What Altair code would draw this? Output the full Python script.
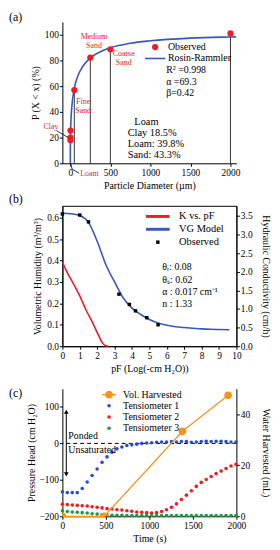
import altair as alt
import pandas as pd

FONT = "Liberation Serif"
RED = "#ee1d25"
BLUE = "#3757c0"
ORANGE = "#f7941d"
T_BLUE = "#2a4bd0"
T_RED = "#f21c1c"
T_GREEN = "#1c9a3c"

# ---------------- Panel (a) data ----------------
a_obs_x = [2, 2, 2, 50, 250, 500, 2000]
a_obs_y = [18.0, 20.0, 25.5, 57.0, 82.3, 88.7, 101.0]
a_fit_x = [0, 0.1, 0.5, 1, 2, 5, 10, 20, 50, 100, 150, 250, 400, 500, 750, 1000, 1500, 2000, 2070]
a_fit_y = [0, 6.2, 11.8, 15.5, 20.2, 28.3, 35.8, 44.7, 58.2, 68.9, 74.9, 82.0, 87.6, 89.9, 93.4, 95.3, 97.4, 98.3, 98.4]
a_drop_x = [50, 250, 500, 2000]
a_drop_y = [57.0, 82.3, 88.7, 101.0]
a_xticks = [0, 500, 1000, 1500, 2000]
a_yticks = [0, 20, 40, 60, 80, 100]

# ---------------- Panel (b) data ----------------
b_vg_pf = [0, 0.5, 1.0, 1.5, 2.0, 2.5, 3.0, 3.5, 4.0, 4.5, 5.0, 5.5, 6.0, 6.5, 7.0, 7.5, 8.0, 8.5, 9.0, 9.6]
b_vg_th = [0.62, 0.618, 0.610, 0.578, 0.49, 0.38, 0.30, 0.225, 0.178, 0.148, 0.125, 0.108,
           0.098, 0.091, 0.087, 0.084, 0.081, 0.079, 0.078, 0.077]
b_obs_pf = [0.0, 1.0, 1.5, 3.25, 3.85, 4.2, 4.85, 5.5]
b_obs_th = [0.617, 0.612, 0.58, 0.243, 0.195, 0.165, 0.133, 0.100]
b_k_pf = [0, 0.2, 0.6, 1.0, 1.35, 1.75, 2.1, 2.3, 2.5, 2.65]
b_k_val = [2.26, 2.05, 1.71, 1.35, 0.98, 0.62, 0.27, 0.09, 0.01, 0.0]
b_xticks = [0, 1, 2, 3, 4, 5, 6, 7, 8, 9, 10]
b_yticks = [0.0, 0.1, 0.2, 0.3, 0.4, 0.5, 0.6]
b_kticks = [0.0, 0.5, 1.0, 1.5, 2.0, 2.5, 3.0, 3.5]

# ---------------- Panel (c) data ----------------
c_time = [0, 57, 114, 171, 228, 285, 342, 399, 456, 513, 570, 627, 684, 741, 798, 855, 912, 969,
          1026, 1083, 1140, 1197, 1254, 1311, 1368, 1425, 1482, 1539, 1596, 1653, 1710, 1767, 1824,
          1881, 1938, 1995]
c_t1 = [-133, -135, -135, -135, -124, -106, -88, -70, -52, -37, -24, -15, -10, -6, -4, -2, 0, 1,
        2, 3, 4, 4, 5, 4, 5, 5, 3, 4, 5, 6, 5, 6, 6, 5, 4, 4]
c_t2 = [-167, -168, -169, -170, -171, -172, -174, -175, -177, -179, -180, -182, -183, -185, -186,
        -188, -189, -190, -191, -190, -187, -182, -175, -166, -154, -142, -130, -118, -107, -99,
        -91, -83, -76, -69, -62, -57]
c_t3 = [-185, -187, -188, -189, -190, -191, -193, -194, -195, -196, -197, -197, -197, -198, -198,
        -198, -198, -198, -198, -198, -198, -198, -198, -198, -198, -198, -198, -198, -198, -198,
        -198, -198, -198, -198, -198, -198]
c_vol_t = [0, 480, 1380, 1905]
c_vol = [0.0, 0.0, 33.3, 47.4]
c_arrow_t = [45]
c_arrow_top = [87]
c_arrow_bot = [-85]
c_xticks = [0, 500, 1000, 1500, 2000]
c_yticks = [-200, -150, -100, -50, 0, 50, 100, 150]
c_vticks = [0, 10, 20, 30, 40, 50]

A_DOM = ["Observed", "Rosin-Rammler"]
B_DOM = ["K vs. pF", "VG Model", "Observed"]
C_DOM = ["Vol. Harvested", "Tensiometer 1", "Tensiometer 2", "Tensiometer 3"]

W = 176
HA, HB, HC = 143, 142, 129
ONE = pd.DataFrame({"k": [0]})


def ax(**kw):
    base = dict(tickSize=3, labelPadding=1, domainColor="black", tickColor="black",
                labelColor="black", titleColor="black", grid=False, labelFont=FONT,
                titleFont=FONT, labelFontSize=9.5, titleFontSize=10,
                titleFontWeight="normal", labelFlush=False, labelOverlap=False)
    base.update(kw)
    return alt.Axis(**base)


def lbl(s, x, y, size=10.0, color="black", align="left"):
    return alt.Chart(ONE).mark_text(align=align, baseline="middle", fontSize=size,
                                    font=FONT, color=color).encode(
        x=alt.value(x), y=alt.value(y), text=alt.value(s))


def seg(x1, y1, x2, y2, color="black", w=0.8):
    return alt.Chart(ONE).mark_rule(color=color, strokeWidth=w).encode(
        x=alt.value(x1), y=alt.value(y1), x2=alt.value(x2), y2=alt.value(y2))


def leg(x, y, size, offset, rowpad, fs=10.5):
    return alt.Legend(orient="none", legendX=x, legendY=y, title=None, labelFont=FONT,
                      labelFontSize=fs, labelColor="black", labelOffset=offset,
                      rowPadding=rowpad, padding=0, symbolSize=size, symbolStrokeWidth=0)


# ---------------- Panel (a) ----------------
xa = alt.Scale(domain=[-99, 2074], nice=False, zero=False)
ya = alt.Scale(domain=[0, 110], nice=False)
XA = alt.X("x:Q", scale=xa, axis=ax(values=a_xticks, format="d", title="Particle Diameter (µm)",
                                    titlePadding=4))
YA = alt.Y("y:Q", scale=ya, axis=ax(values=a_yticks, format="d", title="P (X < x) (%)",
                                    titlePadding=4))
a_obs = pd.DataFrame({"x": a_obs_x, "y": a_obs_y, "s": "Observed"})
a_fit = pd.DataFrame({"x": a_fit_x, "y": a_fit_y})
a_drop = pd.DataFrame({"x": a_drop_x, "y": a_drop_y})

RR_PATH = "M-3.2,-0.25L3.2,-0.25L3.2,0.25L-3.2,0.25Z"
la = leg(88.8, 20.5, 40, 7.9, 1.5, 10)

a_drops = alt.Chart(a_drop).mark_rule(color="black", strokeWidth=0.8).encode(
    x=XA, y=YA, y2=alt.datum(0))
a_line = alt.Chart(a_fit).mark_line(color=BLUE, strokeWidth=1.6, interpolate="monotone").encode(
    x=XA, y=YA)
a_pts = alt.Chart(a_obs).mark_point(filled=True, size=40, opacity=1).encode(
    x=XA, y=YA,
    color=alt.Color("s:N", scale=alt.Scale(domain=A_DOM, range=[RED, BLUE]), legend=la),
    shape=alt.Shape("s:N", scale=alt.Scale(domain=A_DOM, range=["circle", RR_PATH]), legend=la))

RS = 8
a_ann = [
    lbl("(a)", -54, -5, 12),
    lbl("Clay", -19, 106, RS, RED),
    lbl("Fine", 21, 81.5, RS, RED, "center"), lbl("Sand", 21, 90.5, RS, RED, "center"),
    lbl("Medium", 32, 15.5, RS, RED, "center"), lbl("Sand", 32, 24.5, RS, RED, "center"),
    lbl("Coarse", 62, 32.5, RS, RED, "center"), lbl("Sand", 62, 41.5, RS, RED, "center"),
    lbl("Loam", 18, 154, RS, RED),
    lbl("R² =0.998", 105, 48.5, 10), lbl("α =69.3", 105, 60.5, 10), lbl("β=0.42", 105, 71.5, 10),
    lbl("Loam", 85, 101, 10.5, align="center"),
    lbl("Clay 18.5%", 66, 112, 10.5), lbl("Loam: 39.8%", 66, 124, 10.5),
    lbl("Sand: 43.3%", 66, 135, 10.5),
    seg(-6, 110, 6, 117),
    seg(8, 143, 10, 149), seg(10, 149, 17, 153),
]
panel_a = alt.layer(a_drops, a_line, a_pts, *a_ann).properties(width=W, height=HA)

# ---------------- Panel (b) ----------------
xb = alt.Scale(domain=[0, 10], nice=False)
yb = alt.Scale(domain=[0, 0.655], nice=False)
yk = alt.Scale(domain=[0, 3.77], nice=False)
XB = alt.X("pf:Q", scale=xb, axis=ax(values=b_xticks, format="d",
                                     title="pF (Log(-cm H₂O))", titlePadding=4))
YB = alt.Y("th:Q", scale=yb, axis=ax(values=b_yticks, format=".1f",
                                     title="Volumetric Humidity (m³/m³)", titlePadding=4))
b_vg = pd.DataFrame({"pf": b_vg_pf, "th": b_vg_th})
b_obs = pd.DataFrame({"pf": b_obs_pf, "th": b_obs_th, "s": "Observed"})
b_k = pd.DataFrame({"pf": b_k_pf, "k": b_k_val})

LINE_PATH = "M-6.9,-0.85L6.9,-0.85L6.9,0.85L-6.9,0.85Z"
lb = leg(91.3, 5.5, 12, 16.2, 2.0)

b_line = alt.Chart(b_vg).mark_line(color=BLUE, strokeWidth=1.6, interpolate="monotone").encode(
    x=XB, y=YB)
b_pts = alt.Chart(b_obs).mark_point(filled=True, size=12, opacity=1).encode(
    x=XB, y=YB,
    color=alt.Color("s:N", scale=alt.Scale(domain=B_DOM, range=[RED, BLUE, "black"]), legend=lb),
    shape=alt.Shape("s:N", scale=alt.Scale(domain=B_DOM, range=[LINE_PATH, LINE_PATH, "square"]),
                    legend=lb))
b_kl = alt.Chart(b_k).mark_line(color=RED, strokeWidth=1.6, interpolate="monotone").encode(
    x=XB,
    y=alt.Y("k:Q", scale=yk, axis=ax(orient="right", values=b_kticks, format=".1f",
                                     title="Hydraulic Conductivity (cm/h)", titlePadding=9)))
b_ann = [
    lbl("(b)", -54, -7, 12),
    lbl("θᵣ: 0.08", 101, 62, 10), lbl("θₛ: 0.62", 101, 75, 10),
    lbl("α : 0.017 cm⁻¹", 101, 87, 10), lbl("n : 1.33", 101, 99, 10),
]
panel_b = alt.layer(alt.layer(b_line, b_pts, *b_ann), b_kl).resolve_scale(
    y="independent").properties(width=W, height=HB,
                                view=alt.ViewBackground(stroke="black", strokeWidth=1))

# ---------------- Panel (c) ----------------
xc = alt.Scale(domain=[0, 2000], nice=False)
yc = alt.Scale(domain=[-200, 150], nice=False)
yv = alt.Scale(domain=[0, 50], nice=False)
XC = alt.X("t:Q", scale=xc, axis=ax(values=c_xticks, format="d", title="Time (s)",
                                    titlePadding=4))
YC = alt.Y("h:Q", scale=yc, axis=ax(values=c_yticks, format="d",
                                    title="Pressure Head (cm H₂O)", titlePadding=3))
c_long = pd.DataFrame({
    "t": c_time * 3,
    "h": c_t1 + c_t2 + c_t3,
    "s": ["Tensiometer 1"] * len(c_time) + ["Tensiometer 2"] * len(c_time)
         + ["Tensiometer 3"] * len(c_time)})
c_v = pd.DataFrame({"t": c_vol_t, "v": c_vol})
c_arr = pd.DataFrame({"t": c_arrow_t, "h": c_arrow_top, "bot": c_arrow_bot})

VOL_PATH = ("M-3.9,-0.35L3.9,-0.35L3.9,0.35L-3.9,0.35Z "
            "M2.2,0A2.2,2.2,0,1,1,-2.2,0A2.2,2.2,0,1,1,2.2,0Z")
lc = leg(42.2, 1, 13, 9.2, 1.3, 10)

c_pts = alt.Chart(c_long).mark_point(filled=True, size=13, opacity=1).encode(
    x=XC, y=YC,
    color=alt.Color("s:N", scale=alt.Scale(domain=C_DOM, range=[ORANGE, T_BLUE, T_RED, T_GREEN]),
                    legend=lc),
    shape=alt.Shape("s:N", scale=alt.Scale(domain=C_DOM,
                                           range=[VOL_PATH, "circle", "circle", "circle"]),
                    legend=lc))
c_dash = alt.Chart(ONE).mark_rule(color="black", strokeDash=[4, 3], strokeWidth=1).encode(
    y=alt.datum(0))
c_arrow = alt.Chart(c_arr).mark_rule(color="black", strokeWidth=1).encode(
    x=XC, y=YC, y2="bot:Q")
c_head_up = alt.Chart(c_arr).mark_point(shape="triangle-up", filled=True, size=22,
                                        color="black", opacity=1).encode(x=XC, y=YC)
c_head_dn = alt.Chart(c_arr).mark_point(shape="triangle-down", filled=True, size=22,
                                        color="black", opacity=1).encode(x=XC, y=alt.Y("bot:Q", scale=yc))
c_ann = [
    lbl("(c)", -54, 4, 12),
    lbl("Ponded", 6, 48, 10), lbl("Unsaturated", 6, 62, 10),
]
c_vline = alt.Chart(c_v).mark_line(color=ORANGE, strokeWidth=1.3).encode(
    x=XC,
    y=alt.Y("v:Q", scale=yv, axis=ax(orient="right", values=c_vticks, format="d",
                                     title="Water Harvested (mL)", titlePadding=11)))
c_vpts = alt.Chart(c_v).mark_point(filled=True, size=60, color=ORANGE, opacity=1,
                                   clip=True).encode(x=XC, y=alt.Y("v:Q", scale=yv))
panel_c = alt.layer(
    alt.layer(c_dash, c_pts, c_arrow, c_head_up, c_head_dn, *c_ann),
    alt.layer(c_vline, c_vpts)).resolve_scale(y="independent").properties(width=W, height=HC)

chart = alt.vconcat(panel_a, panel_b, panel_c, spacing=43, bounds="flush").resolve_scale(
    color="independent", shape="independent").resolve_legend(
    color="independent", shape="independent").properties(padding=0).configure_view(strokeWidth=0)

chart.save("out.html", embed_options={"renderer": "svg", "actions": False})
